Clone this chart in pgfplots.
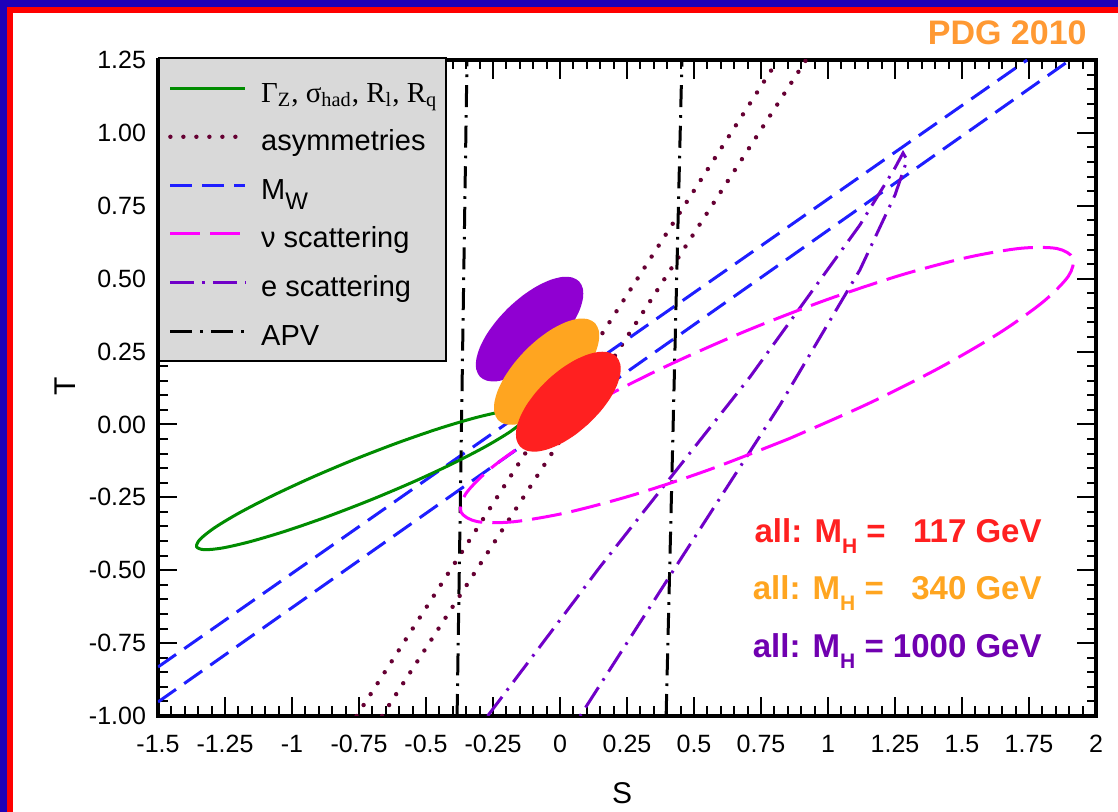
\documentclass[border=0pt]{standalone}
\usepackage{pgfplots}
\pgfplotsset{compat=1.18}
\usepackage{fontspec}
\setmainfont{Liberation Sans}
\newfontfamily\serifl{Liberation Serif}
\definecolor{frameblue}{RGB}{30,0,185}
\definecolor{fgreen}{RGB}{0,140,0}
\definecolor{fmaroon}{RGB}{102,0,51}
\definecolor{fblue}{RGB}{30,30,255}
\definecolor{fmag}{RGB}{255,0,255}
\definecolor{fepurple}{RGB}{112,0,200}
\definecolor{fred}{RGB}{255,32,32}
\definecolor{forange}{RGB}{255,165,32}
\definecolor{fpurple}{RGB}{144,0,210}
\definecolor{tpurple}{RGB}{112,0,176}
\definecolor{pdgorange}{RGB}{255,153,51}
\definecolor{lgray}{RGB}{217,217,217}
\newcommand{\Hsub}{\raisebox{-5.5pt}{\fontsize{10.5}{10.5}\selectfont H}}
\tikzset{
  gstyle/.style={fgreen, line width=1.5pt, solid},
  astyle/.style={fmaroon, line width=2.2pt, line cap=round, dash pattern=on 0pt off 6.5pt},
  bstyle/.style={fblue, line width=1.5pt, dash pattern=on 11pt off 5pt},
  mstyle/.style={fmag, line width=1.5pt, dash pattern=on 15pt off 5pt},
  estyle/.style={fepurple, line width=1.5pt, dash pattern=on 12pt off 4pt on 1.3pt off 4pt},
  pstyle/.style={black, line width=1.5pt, dash pattern=on 11pt off 4pt on 1.3pt off 4pt},
}
\begin{document}
\begin{tikzpicture}
\fill[frameblue] (-79pt,-48pt) rectangle (480pt,358pt);
\fill[red] (-75.5pt,-48pt) rectangle (480pt,354.5pt);
\fill[white] (-72.5pt,-48pt) rectangle (480pt,351.5pt);
\begin{axis}[
  at={(0pt,0pt)}, anchor=south west,
  scale only axis, width=469pt, height=328pt,
  xmin=-1.5, xmax=2, ymin=-1, ymax=1.25,
  xtick={-1.5,-1.25,-1,-0.75,-0.5,-0.25,0,0.25,0.5,0.75,1,1.25,1.5,1.75,2},
  xticklabels={-1.5,-1.25,-1,-0.75,-0.5,-0.25,0,0.25,0.5,0.75,1,1.25,1.5,1.75,2},
  ytick={-1,-0.75,-0.5,-0.25,0,0.25,0.5,0.75,1,1.25},
  yticklabels={-1.00,-0.75,-0.50,-0.25,0.00,0.25,0.50,0.75,1.00,1.25},
  minor tick num=4,
  tick align=inside, xtick pos=both, ytick pos=both,
  major tick length=9.5pt, minor tick length=4.75pt,
  every tick/.style={black, line width=1pt},
  axis line style={line width=2pt},
  /pgf/number format/assume math mode=true,
  tick label style={font=\fontsize{12.5}{12.5}\selectfont},
  xticklabel style={yshift=-6pt},
  yticklabel style={xshift=-2.5pt},
  xlabel={S}, ylabel={T},
  label style={font=\fontsize{15}{15}\selectfont},
  xlabel style={at={(axis description cs:0.4947,-0.1174)}, anchor=center},
  ylabel style={at={(axis description cs:-0.0991,0.503)}, anchor=center},
  legend cell align=left,
  legend style={at={(0,1)}, anchor=north west, yshift=1.5pt, fill=lgray, draw=black,
    line width=1.2pt, inner xsep=4.5pt, inner ysep=4.5pt,
    font=\fontsize{14.5}{14.5}\selectfont, row sep=3.3pt, column sep=6.8pt,
    nodes={inner sep=0pt, text height=17.5pt, text depth=3.5pt}},
  legend image code/.code={\draw[#1] (0pt,0pt) -- (37.5pt,0pt);},
]
\addlegendimage{gstyle}
\addlegendentry{{\serifl\fontsize{14.5}{14.5}\selectfont Γ\textsubscript{Z}, σ\textsubscript{had}, R\textsubscript{l}, R\textsubscript{q}}}
\addlegendimage{astyle}
\addlegendentry{asymmetries}
\addlegendimage{bstyle}
\addlegendentry{M\raisebox{-5pt}{\fontsize{12}{12}\selectfont W}}
\addlegendimage{mstyle}
\addlegendentry{ν scattering}
\addlegendimage{estyle}
\addlegendentry{e scattering}
\addlegendimage{pstyle}
\addlegendentry{APV}

% asymmetries
\addplot[astyle, forget plot] coordinates {(-0.759,-1) (0.813,1.25)};
\addplot[astyle, forget plot] coordinates {(-0.664,-1) (0.918,1.25)};
% M_W
\addplot[bstyle, forget plot] coordinates {(-1.5,-0.832) (1.743,1.25)};
\addplot[bstyle, forget plot] coordinates {(-1.5,-0.952) (1.903,1.25)};
% APV
\addplot[pstyle, forget plot] coordinates {(-0.384,-1) (-0.347,1.25)};
\addplot[pstyle, forget plot] coordinates {(0.396,-1) (0.455,1.25)};
% e scattering
\addplot[estyle, forget plot] coordinates {(-0.270,-1) (0.149,-0.489) (0.709,0.163) (1.119,0.684) (1.250,0.880) (1.280,0.931) (1.295,0.907) (1.250,0.787) (1.119,0.530) (0.821,0.067) (0.448,-0.465) (0.075,-1)};
% nu scattering
\addplot[mstyle, smooth, forget plot] coordinates {(0.8552,-0.0487) (0.5569,-0.1551) (0.2732,-0.2419) (0.0235,-0.3028) (-0.1750,-0.3340) (-0.3091,-0.3332) (-0.3694,-0.3004) (-0.3519,-0.2380) (-0.2578,-0.1502) (-0.0935,-0.0428) (0.1298,0.0765) (0.3969,0.1999) (0.6896,0.3189) (0.9879,0.4253) (1.2716,0.5121) (1.5213,0.5730) (1.7198,0.6042) (1.8539,0.6034) (1.9142,0.5706) (1.8967,0.5082) (1.8026,0.4204) (1.6383,0.3130) (1.4150,0.1937) (1.1479,0.0703) (0.8552,-0.0487)};
% Z-pole observables
\addplot[gstyle, smooth, forget plot] coordinates {(-0.120,0.0395) (-0.1332,0.0138) (-0.1875,-0.0259) (-0.2794,-0.0767) (-0.4025,-0.1352) (-0.5485,-0.1975) (-0.7074,-0.2593) (-0.8683,-0.3163) (-1.0205,-0.3648) (-1.1534,-0.4013) (-1.2579,-0.4235) (-1.3270,-0.4296) (-1.356,-0.4195) (-1.3428,-0.3938) (-1.2885,-0.3541) (-1.1966,-0.3033) (-1.0735,-0.2448) (-0.9275,-0.1825) (-0.7686,-0.1207) (-0.6077,-0.0637) (-0.4555,-0.0152) (-0.3226,0.0213) (-0.2181,0.0435) (-0.1490,0.0496) (-0.120,0.0395)};
% filled: M_H = 1000
\addplot[fill=fpurple, draw=none, smooth, forget plot] coordinates {(-0.0371,0.2517) (-0.0877,0.2121) (-0.1401,0.1803) (-0.1907,0.1585) (-0.2359,0.1481) (-0.2729,0.1501) (-0.299,0.164) (-0.3125,0.1891) (-0.3123,0.2235) (-0.2987,0.2649) (-0.2725,0.3107) (-0.2353,0.3575) (-0.1899,0.4023) (-0.1393,0.4419) (-0.0869,0.4737) (-0.0363,0.4955) (0.0089,0.5059) (0.0459,0.5039) (0.072,0.490) (0.0855,0.4649) (0.0853,0.4305) (0.0717,0.3891) (0.0455,0.3433) (0.0083,0.2965) (-0.0371,0.2517)};
% filled: M_H = 340
\addplot[fill=forange, draw=none, smooth, forget plot] coordinates {(0.0264,0.1057) (-0.023,0.0653) (-0.0743,0.0328) (-0.124,0.0104) (-0.1685,-0.0005) (-0.205,0.0012) (-0.231,0.015) (-0.2446,0.0402) (-0.2449,0.0749) (-0.232,0.1168) (-0.2067,0.1632) (-0.1706,0.2107) (-0.1264,0.2563) (-0.077,0.2967) (-0.0257,0.3292) (0.024,0.3516) (0.0685,0.3625) (0.105,0.3608) (0.131,0.347) (0.1446,0.3218) (0.1449,0.2871) (0.132,0.2452) (0.1067,0.1988) (0.0706,0.1513) (0.0264,0.1057)};
% filled: M_H = 117
\addplot[fill=fred, draw=none, smooth, forget plot] coordinates {(0.1074,0.0027) (0.0582,-0.0346) (0.0072,-0.0642) (-0.0423,-0.0841) (-0.0867,-0.0931) (-0.1231,-0.0902) (-0.149,-0.076) (-0.1627,-0.0512) (-0.1631,-0.0177) (-0.1503,0.0223) (-0.1252,0.0662) (-0.0894,0.1108) (-0.0454,0.1533) (0.0038,0.1906) (0.0548,0.2202) (0.1043,0.2401) (0.1487,0.2491) (0.1851,0.2462) (0.211,0.232) (0.2247,0.2072) (0.2251,0.1737) (0.2123,0.1337) (0.1872,0.0898) (0.1514,0.0452) (0.1074,0.0027)};
\end{axis}
\node[anchor=base east, inner sep=0pt, text=pdgorange, font=\bfseries\fontsize{17}{17}\selectfont] at (464.5pt,335.5pt) {PDG 2010};
\node[anchor=base east, inner sep=0pt, text=fred, font=\bfseries\fontsize{16.5}{16.5}\selectfont] at (442pt,86.5pt) {all: M\Hsub{} = \hphantom{0}117 GeV};
\node[anchor=base east, inner sep=0pt, text=forange, font=\bfseries\fontsize{16.5}{16.5}\selectfont] at (442pt,58pt) {all: M\Hsub{} = \hphantom{0}340 GeV};
\node[anchor=base east, inner sep=0pt, text=tpurple, font=\bfseries\fontsize{16.5}{16.5}\selectfont] at (442pt,29pt) {all: M\Hsub{} = 1000 GeV};
\pgfresetboundingbox
\path[use as bounding box] (-79pt,-48pt) rectangle (480pt,358pt);
\end{tikzpicture}
\end{document}
